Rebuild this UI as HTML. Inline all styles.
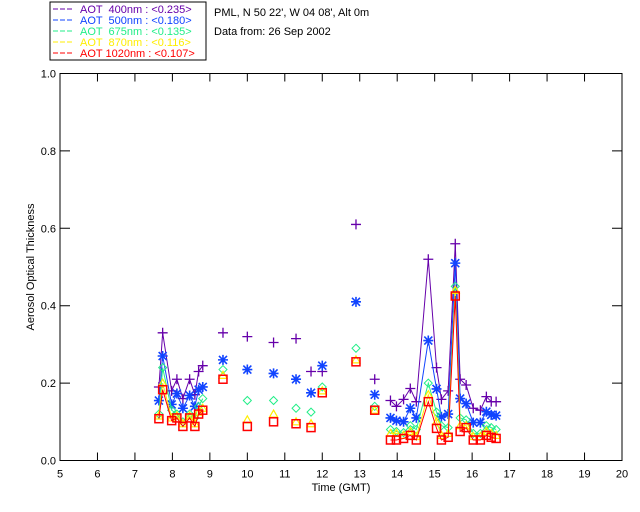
<!DOCTYPE html>
<html><head><meta charset="utf-8"><style>
html,body{margin:0;padding:0;background:#fff;width:640px;height:512px;overflow:hidden}
svg text{font-family:"Liberation Sans",sans-serif;font-size:11px}
</style></head><body>
<svg id="chart" width="640" height="512" xmlns="http://www.w3.org/2000/svg">
<g>
<rect x="50" y="2" width="156" height="58" fill="#fff" stroke="#000" stroke-width="1"/>
<g id="legendItems"></g>
</g>
<text x="214" y="16" fill="#000">PML, N 50 22', W 04 08', Alt 0m</text>
<text x="214" y="35" fill="#000">Data from: 26 Sep 2002</text>
<rect x="60" y="73.5" width="562" height="387" fill="none" stroke="#000" stroke-width="1"/>
<g id="axes"></g>
<g id="series"></g>
<text x="341" y="491" text-anchor="middle">Time (GMT)</text>
<text x="34" y="267" text-anchor="middle" transform="rotate(-90 34 267)">Aerosol Optical Thickness</text>
</svg>
<script>
const seriesNames = ["AOT  400nm : <0.235>","AOT  500nm : <0.180>","AOT  675nm : <0.135>","AOT  870nm : <0.116>","AOT 1020nm : <0.107>"];
const seriesColors = ["#6600aa","#1144ff","#22ee88","#ffee00","#ff0000"];
const xTicks = [5,6,7,8,9,10,11,12,13,14,15,16,17,18,19,20];
const yTicks = [0.0,0.2,0.4,0.6,0.8,1.0];
// segments: 0 = first connected group, -1 = isolated, 1 = second connected group
const times = [7.64,7.74,7.98,8.12,8.28,8.46,8.6,8.7,8.81,
 9.35,10.0,10.7,11.3,11.7,12.0,12.9,13.4,
 13.82,13.98,14.17,14.35,14.51,14.83,15.05,15.18,15.36,15.55,15.68,15.84,16.03,16.22,16.38,16.51,16.64];
const segments = [0,0,0,0,0,0,0,0,0, -1,-1,-1,-1,-1,-1,-1,-1, 1,1,1,1,1,1,1,1,1,1,1,1,1,1,1,1,1];
const aot400 = [0.19,0.33,0.18,0.21,0.16,0.21,0.17,0.23,0.245,
 0.33,0.32,0.305,0.315,0.23,0.23,0.61,0.21,
 0.155,0.14,0.158,0.186,0.152,0.52,0.24,0.158,0.18,0.56,0.21,0.195,0.135,0.13,0.165,0.152,0.152];
const aot500 = [0.155,0.27,0.145,0.173,0.135,0.168,0.14,0.183,0.19,
 0.26,0.235,0.225,0.21,0.175,0.245,0.41,0.17,
 0.11,0.103,0.10,0.135,0.11,0.31,0.185,0.113,0.12,0.51,0.16,0.147,0.098,0.098,0.126,0.118,0.116];
const aot675 = [0.12,0.24,0.13,0.12,0.10,0.12,0.11,0.14,0.16,
 0.235,0.155,0.155,0.135,0.125,0.19,0.29,0.14,
 0.08,0.075,0.072,0.09,0.08,0.2,0.125,0.09,0.085,0.45,0.11,0.105,0.07,0.07,0.09,0.085,0.08];
const aot870 = [0.115,0.2,0.11,0.115,0.095,0.115,0.095,0.125,0.135,
 0.22,0.105,0.12,0.10,0.095,0.18,0.26,0.13,
 0.07,0.07,0.065,0.075,0.062,0.17,0.10,0.065,0.07,0.44,0.09,0.09,0.062,0.062,0.075,0.07,0.065];
const aot1020 = [0.108,0.183,0.103,0.11,0.088,0.11,0.088,0.12,0.13,
 0.21,0.088,0.10,0.095,0.085,0.175,0.255,0.13,
 0.053,0.053,0.057,0.065,0.053,0.152,0.083,0.053,0.06,0.425,0.075,0.085,0.053,0.053,0.065,0.06,0.057];
const allSeries = [aot400,aot500,aot675,aot870,aot1020];
const markerTypes = ["plus","star","diamond","triangle","square"];

const NS="http://www.w3.org/2000/svg";
const X0=60,X1=622,Y0=460.5,Y1=73.5;
function xs(t){return X0+(t-5)/(20-5)*(X1-X0);}
function ys(v){return Y0-(v-0)/(1-0)*(Y0-Y1);}
function mk(tag,attrs,parent){const e=document.createElementNS(NS,tag);for(const k in attrs)e.setAttribute(k,attrs[k]);parent.appendChild(e);return e;}

const axes=document.getElementById('axes');
xTicks.forEach(t=>{
  const x=xs(t);
  const tk=mk('path',{d:`M${x},${Y0}v-8M${x},${Y1}v8`,stroke:'#000','stroke-width':1},axes);
  
  
  const lb=mk('text',{x:x,y:Y0+17,'text-anchor':'middle'},axes);
  lb.textContent=String(t);
  
  
});
yTicks.forEach(v=>{
  const y=ys(v);
  const tk=mk('path',{d:`M${X0},${y}h10M${X1},${y}h-10`,stroke:'#000','stroke-width':1},axes);
  
  
  const lb=mk('text',{x:X0-4,y:y+4,'text-anchor':'end'},axes);
  lb.textContent=v.toFixed(1);
  
  
});

const lg=document.getElementById('legendItems');
seriesNames.forEach((n,i)=>{
  const y=12+i*11;
  const ln=mk('line',{x1:53,x2:74,y1:y-3,y2:y-3,stroke:seriesColors[i],'stroke-dasharray':'5,2'},lg);
  
  
  const tx=mk('text',{x:80,y:y+1,fill:seriesColors[i],'xml:space':'preserve','style':'white-space:pre'},lg);
  tx.textContent=n;
  
  
});

function marker(type,x,y,c,g){
  let e;
  if(type==='plus') e=mk('path',{d:`M${x-5},${y}h10M${x},${y-5}v10`,stroke:c,'stroke-width':1.3,fill:'none'},g);
  else if(type==='star') e=mk('path',{d:`M${x-5},${y}h10M${x},${y-5}v10M${x-4},${y-4}l8,8M${x-4},${y+4}l8,-8`,stroke:c,'stroke-width':1.6,fill:'none'},g);
  else if(type==='diamond') e=mk('path',{d:`M${x},${y-4}l4,4l-4,4l-4,-4z`,stroke:c,'stroke-width':1,fill:'none'},g);
  else if(type==='triangle') e=mk('path',{d:`M${x},${y-4}l4,7h-8z`,stroke:c,'stroke-width':1.2,fill:'none'},g);
  else e=mk('rect',{x:x-4,y:y-4,width:8,height:8,stroke:c,'stroke-width':1.5,fill:'none'},g);
  
  
}

const sg=document.getElementById('series');
allSeries.forEach((vals,si)=>{
  const g=mk('g',{},sg);
  
  
  [0,1].forEach(seg=>{
    const pts=[];
    times.forEach((t,i)=>{if(segments[i]===seg)pts.push(xs(t)+','+ys(vals[i]));});
    const pl=mk('polyline',{points:pts.join(' '),fill:'none',stroke:seriesColors[si],'stroke-width':1},g);
    
    
  });
  times.forEach((t,i)=>marker(markerTypes[si],xs(t),ys(vals[i]),seriesColors[si],g));
});
</script>
</body></html>
